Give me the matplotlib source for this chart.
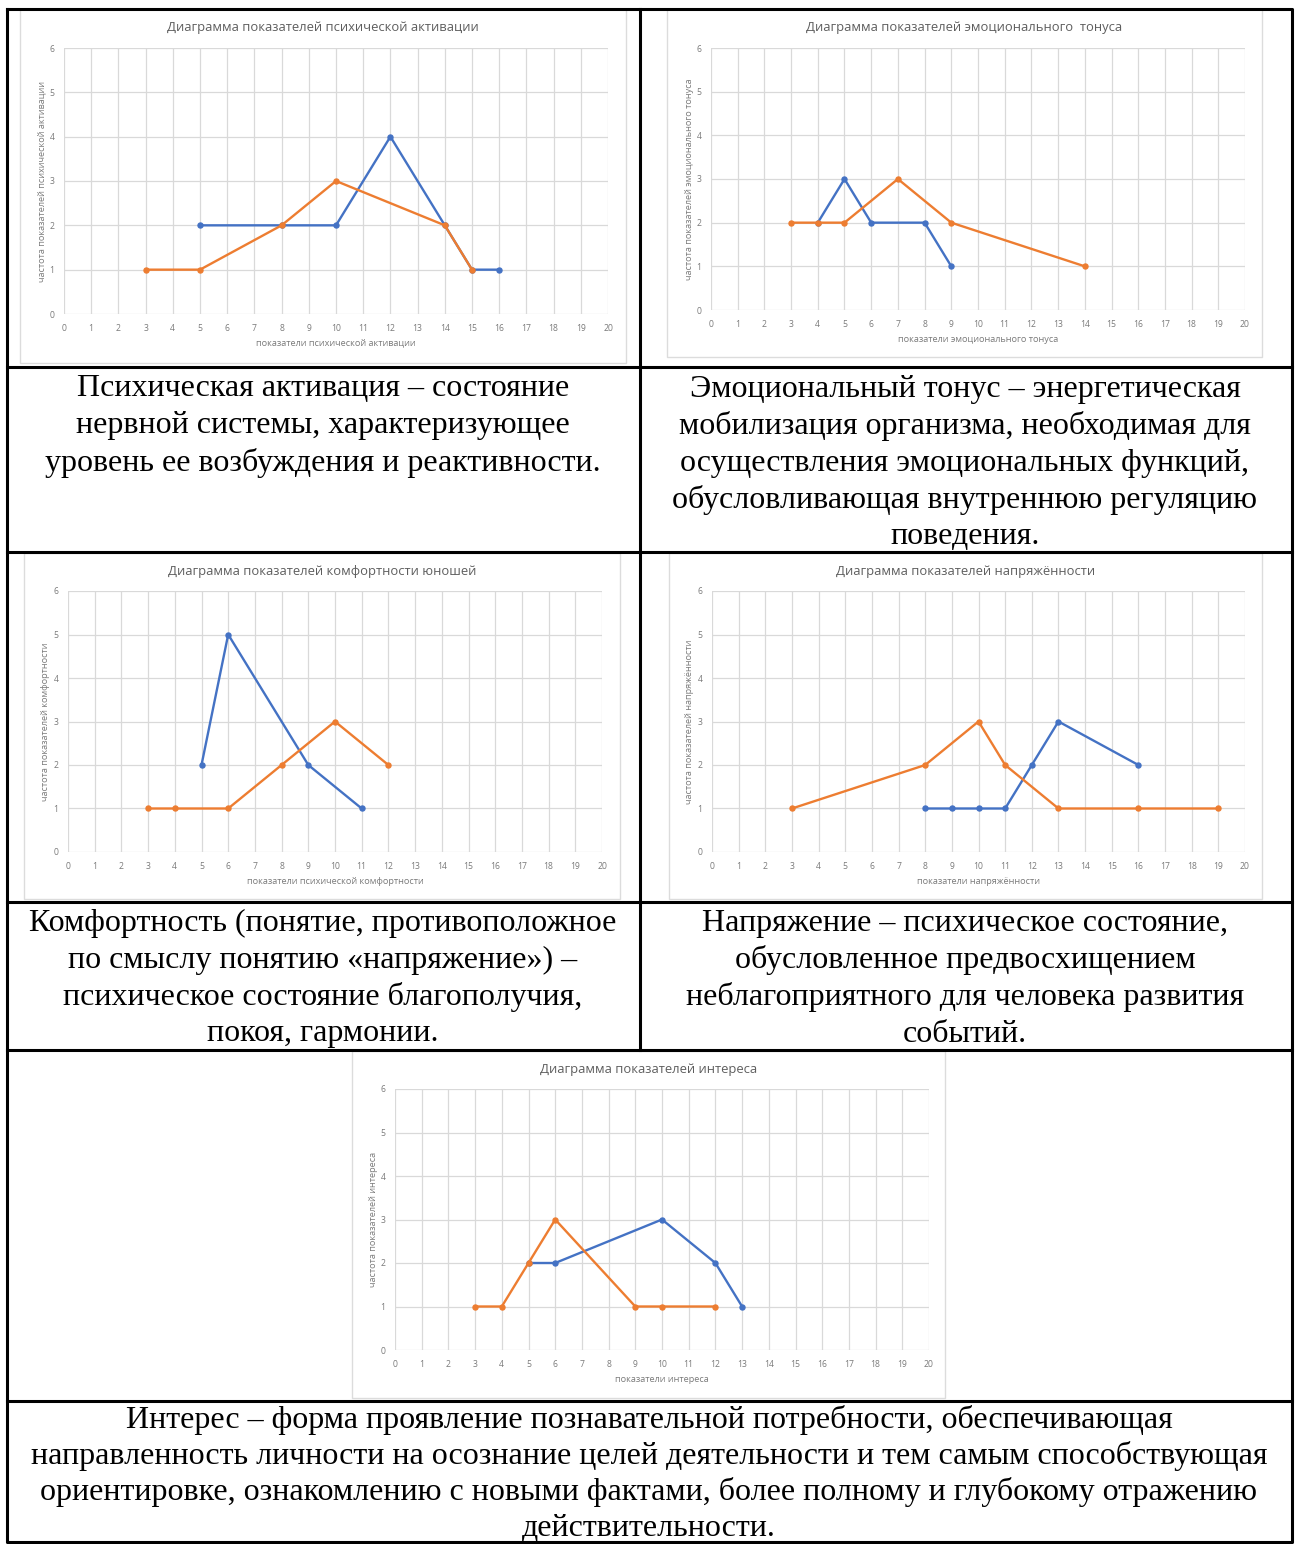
import matplotlib
matplotlib.use("Agg")
import matplotlib.pyplot as plt
from matplotlib.patches import Rectangle

W, H = 1297, 1544
DPI = 100

BLUE = "#4472C4"
ORANGE = "#ED7D31"
GRID = "#d9d9d9"
TXT = "#5e5e5e"

X_TICKS = list(range(0, 21))
Y_TICKS = list(range(0, 7))

# --- chart data -----------------------------------------------------------
act_title = "Диаграмма показателей психической активации"
act_xlabel = "показатели психической активации"
act_ylabel = "частота показателей психической активации"
act_blue_x = [5, 8, 10, 12, 14, 15, 16]
act_blue_y = [2, 2, 2, 4, 2, 1, 1]
act_orange_x = [3, 5, 8, 10, 14, 15]
act_orange_y = [1, 1, 2, 3, 2, 1]

tone_title = "Диаграмма показателей эмоционального  тонуса"
tone_xlabel = "показатели эмоционального тонуса"
tone_ylabel = "частота показателей эмоционального тонуса"
tone_blue_x = [4, 5, 6, 8, 9]
tone_blue_y = [2, 3, 2, 2, 1]
tone_orange_x = [3, 4, 5, 7, 9, 14]
tone_orange_y = [2, 2, 2, 3, 2, 1]

comf_title = "Диаграмма показателей комфортности юношей"
comf_xlabel = "показатели психической комфортности"
comf_ylabel = "частота показателей комфортности"
comf_blue_x = [5, 6, 9, 11]
comf_blue_y = [2, 5, 2, 1]
comf_orange_x = [3, 4, 6, 8, 10, 12]
comf_orange_y = [1, 1, 1, 2, 3, 2]

tens_title = "Диаграмма показателей напряжённости"
tens_xlabel = "показатели напряжённости"
tens_ylabel = "частота показателей напряжённости"
tens_blue_x = [8, 9, 10, 11, 12, 13, 16]
tens_blue_y = [1, 1, 1, 1, 2, 3, 2]
tens_orange_x = [3, 8, 10, 11, 13, 16, 19]
tens_orange_y = [1, 2, 3, 2, 1, 1, 1]

int_title = "Диаграмма показателей интереса"
int_xlabel = "показатели интереса"
int_ylabel = "частота показателей интереса"
int_blue_x = [5, 6, 10, 12, 13]
int_blue_y = [2, 2, 3, 2, 1]
int_orange_x = [3, 4, 5, 6, 9, 10, 12]
int_orange_y = [1, 1, 2, 3, 1, 1, 1]

# --- table texts ----------------------------------------------------------
cell_act = ["Психическая активация – состояние",
            "нервной системы, характеризующее",
            "уровень ее возбуждения и реактивности."]
cell_tone = ["Эмоциональный тонус – энергетическая",
             "мобилизация организма, необходимая для",
             "осуществления эмоциональных функций,",
             "обусловливающая внутреннюю регуляцию",
             "поведения."]
cell_comf = ["Комфортность (понятие, противоположное",
             "по смыслу понятию «напряжение») –",
             "психическое состояние благополучия,",
             "покоя, гармонии."]
cell_tens = ["Напряжение – психическое состояние,",
             "обусловленное предвосхищением",
             "неблагоприятного для человека развития",
             "событий."]
cell_int = ["Интерес – форма проявление познавательной потребности, обеспечивающая",
            "направленность личности на осознание целей деятельности и тем самым способствующая",
            "ориентировке, ознакомлению с новыми фактами, более полному и глубокому отражению",
            "действительности."]

fig = plt.figure(figsize=(W / DPI, H / DPI), dpi=DPI)
fig.patch.set_facecolor("white")

# background layer in pixel coordinates for the table
bg = fig.add_axes([0, 0, 1, 1])
bg.set_xlim(0, W)
bg.set_ylim(H, 0)
bg.axis("off")

# table borders
TL, TR, TT, TB = 6.5, 1292, 8.5, 1542
COL = 640
rows = [366.5, 552, 902, 1050, 1401]
lw_tab = 2.2
bg.plot([TL, TR, TR, TL, TL], [TT, TT, TB, TB, TT], color="black", lw=lw_tab,
        solid_capstyle="projecting")
for y in rows:
    bg.plot([TL, TR], [y, y], color="black", lw=lw_tab)
bg.plot([COL, COL], [TT, rows[3]], color="black", lw=lw_tab)

SERIF = "Liberation Serif"
FS = 23.0


def cell_text(lines, cx, y0, step=37.0):
    for i, s in enumerate(lines):
        bg.text(cx, y0 + i * step, s, ha="center", va="center",
                family=SERIF, fontsize=FS, color="black", zorder=5)


cell_text(cell_act, 323, 389)
cell_text(cell_tone, 965, 389)
cell_text(cell_comf, 323, 923)
cell_text(cell_tens, 965, 923)
cell_text(cell_int, 649, 1420, step=36.0)

SANS = "Open Sans"


def chart(frame, plot, title, xlabel, ylabel, bx, by, ox, oy):
    fl, ft, fr, fb = frame
    bg.add_patch(Rectangle((fl, ft), fr - fl, fb - ft, fill=False,
                           edgecolor="#dcdcdc", lw=1.0))
    l, t, r, b = plot
    ax = fig.add_axes([l / W, 1 - b / H, (r - l) / W, (b - t) / H])
    ax.set_xlim(0, 20)
    ax.set_ylim(0, 6)
    ax.set_xticks(X_TICKS)
    ax.set_yticks(Y_TICKS)
    ax.grid(True, color=GRID, lw=0.9)
    ax.set_axisbelow(True)
    for s in ax.spines.values():
        s.set_visible(False)
    ax.tick_params(length=0, labelsize=6.2, labelcolor="#7a7a7a", pad=7)
    for lab in ax.get_xticklabels() + ax.get_yticklabels():
        lab.set_family(SANS)
    ax.patch.set_alpha(0)
    ax.plot(bx, by, color=BLUE, lw=1.7, marker="o", ms=3.6, clip_on=False)
    ax.plot(ox, oy, color=ORANGE, lw=1.7, marker="o", ms=3.6, clip_on=False)
    cx = (l + r) / 2
    bg.text((fl + fr) / 2, ft + 18, title, ha="center", va="center",
            family=SANS, fontsize=9.4, color=TXT)
    bg.text(cx, b + 29, xlabel, ha="center", va="center",
            family=SANS, fontsize=6.6, color="#7a7a7a")
    bg.text(l - 22, (t + b) / 2, ylabel, ha="center", va="center",
            rotation=90, family=SANS, fontsize=6.6, color="#7a7a7a")


chart((20, 9, 626, 363), (64, 48, 608, 314),
      act_title, act_xlabel, act_ylabel,
      act_blue_x, act_blue_y, act_orange_x, act_orange_y)
chart((667, 9, 1262, 357), (711, 48, 1245, 310),
      tone_title, tone_xlabel, tone_ylabel,
      tone_blue_x, tone_blue_y, tone_orange_x, tone_orange_y)
chart((24, 553, 620, 899), (68, 591, 602, 852),
      comf_title, comf_xlabel, comf_ylabel,
      comf_blue_x, comf_blue_y, comf_orange_x, comf_orange_y)
chart((669, 553, 1262, 899), (712, 591, 1245, 852),
      tens_title, tens_xlabel, tens_ylabel,
      tens_blue_x, tens_blue_y, tens_orange_x, tens_orange_y)
chart((352, 1051, 945, 1398), (395, 1089, 929, 1350),
      int_title, int_xlabel, int_ylabel,
      int_blue_x, int_blue_y, int_orange_x, int_orange_y)

fig.savefig("out.png", dpi=DPI, facecolor="white")
